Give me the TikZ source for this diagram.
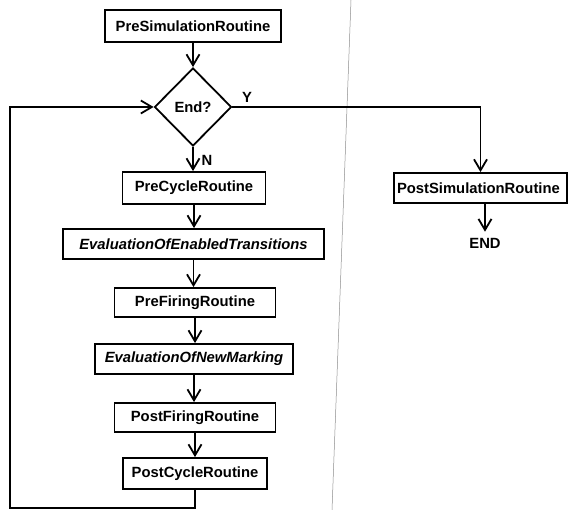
\documentclass[tikz,border=0pt]{standalone}
\usepackage{fontspec}
\setmainfont{Liberation Sans}
\usepackage{tikz}
\usetikzlibrary{arrows.meta,shapes.geometric}
\tikzset{
routine/.style={
	draw=black,
	line width=1.8pt,
	inner sep=3pt,
	font=\fontsize{14.8}{17}\selectfont\bfseries
},
evalbox/.style={routine, font=\fontsize{14.8}{17}\selectfont\bfseries\itshape},
decision/.style={
	diamond,
	draw=black,
	line width=1.8pt,
	inner sep=0pt,
	aspect=1,
	minimum width=77pt,
	minimum height=78pt,
	font=\fontsize{14.8}{17}\selectfont\bfseries
},
flowarrow/.style={-{Straight Barb[length=11pt,width=13pt]}, line width=1.8pt, draw=black},
branchlabel/.style={font=\fontsize{14.8}{17}\selectfont\bfseries, inner sep=0pt}
}
\begin{document}
\begin{tikzpicture}[x=1pt,y=-1pt]
\useasboundingbox (0,0) rectangle (570,510);
% Scan fold line
\draw[black!45,line width=0.5pt] (351,0)--(332,510);

% ── Main column ────────────────────────────────────────────────
\node[routine,minimum width=176pt,minimum height=32pt] (presim) at (193,26) {PreSimulationRoutine};
\node[decision] (endq) at (193,107) {End?};
\node[routine,minimum width=143pt,minimum height=32pt] (precyc) at (194,188) {PreCycleRoutine};
\node[evalbox,minimum width=261pt,minimum height=30pt] (evalen) at (193.5,244) {EvaluationOfEnabledTransitions};
\node[routine,minimum width=161pt,minimum height=29pt] (prefir) at (195,302.5) {PreFiringRoutine};
\node[evalbox,minimum width=198pt,minimum height=30pt] (evalnew) at (194,359) {EvaluationOfNewMarking};
\node[routine,minimum width=161pt,minimum height=29pt] (postfir) at (195,417.5) {PostFiringRoutine};
\node[routine,minimum width=144pt,minimum height=31pt] (postcyc) at (195,473.5) {PostCycleRoutine};

% ── Right column ───────────────────────────────────────────────
\node[routine,text width=167pt,align=left,minimum height=30pt] (postsim) at (480.5,188) {PostSimulationRoutine};
\node[branchlabel] (fin) at (485,243) {END};

% ── Connectors ─────────────────────────────────────────────────
\draw[flowarrow] (presim) -- (endq);
\draw[flowarrow] (endq.south) -- (endq.south |- precyc.north);
\draw[flowarrow] (precyc.south) -- (precyc.south |- evalen.north);
\draw[flowarrow] (evalen.south) -- (evalen.south |- prefir.north);
\draw[flowarrow] (prefir.south) -- (prefir.south |- evalnew.north);
\draw[flowarrow] (evalnew.south) -- (evalnew.south |- postfir.north);
\draw[flowarrow] (postfir.south) -- (postfir.south |- postcyc.north);

\coordinate (loopbl) at (10,508);
\draw[flowarrow] (postcyc.south) |- (loopbl) |- (endq.west);
\draw[flowarrow] (endq.east) -| (postsim.north);
\draw[flowarrow] (postsim.south -| fin) -- ([yshift=6pt]fin.north);

\node[branchlabel] (ylab) at (247,97) {Y};
\node[branchlabel] (nlab) at (207,160) {N};
\end{tikzpicture}
\end{document}
